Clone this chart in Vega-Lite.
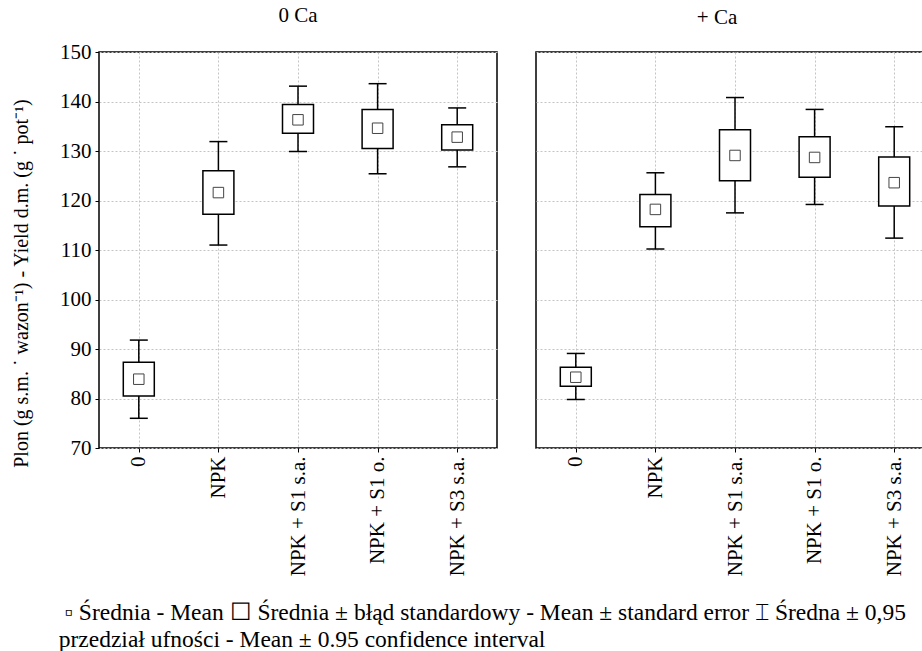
{
  "$schema": "https://vega.github.io/schema/vega-lite/v6.json",
  "background": "white",
  "padding": {"left": 10, "top": 4, "right": 0, "bottom": 0},
  "config": {
    "font": "Times New Roman",
    "view": {"stroke": "black", "strokeWidth": 1.5},
    "axis": {
      "labelFont": "Times New Roman", "titleFont": "Times New Roman",
      "labelFontSize": 21, "titleFontSize": 20, "titleFontWeight": "normal",
      "labelColor": "black", "titleColor": "black", "domain": false,
      "tickColor": "black", "tickSize": 4, "tickWidth": 1,
      "gridColor": "#c4c4c4", "gridDash": [2, 2], "gridWidth": 1
    },
    "title": {"font": "Times New Roman", "fontWeight": "normal", "fontSize": 21, "color": "black"}
  },
  "data": {
    "values": [
      {"panel": "0 Ca", "trt": "0", "mean": 83.9, "se_lo": 80.5, "se_hi": 87.3, "ci_lo": 76.0, "ci_hi": 91.8},
      {"panel": "0 Ca", "trt": "NPK", "mean": 121.6, "se_lo": 117.2, "se_hi": 126.0, "ci_lo": 111.0, "ci_hi": 131.9},
      {"panel": "0 Ca", "trt": "NPK + S1 s.a.", "mean": 136.3, "se_lo": 133.6, "se_hi": 139.4, "ci_lo": 129.9, "ci_hi": 143.1},
      {"panel": "0 Ca", "trt": "NPK + S1 o.", "mean": 134.6, "se_lo": 130.5, "se_hi": 138.4, "ci_lo": 125.4, "ci_hi": 143.6},
      {"panel": "0 Ca", "trt": "NPK + S3 s.a.", "mean": 132.8, "se_lo": 130.2, "se_hi": 135.3, "ci_lo": 126.8, "ci_hi": 138.7},
      {"panel": "+ Ca", "trt": "0", "mean": 84.3, "se_lo": 82.5, "se_hi": 86.3, "ci_lo": 79.8, "ci_hi": 89.1},
      {"panel": "+ Ca", "trt": "NPK", "mean": 118.2, "se_lo": 114.7, "se_hi": 121.2, "ci_lo": 110.2, "ci_hi": 125.6},
      {"panel": "+ Ca", "trt": "NPK + S1 s.a.", "mean": 129.1, "se_lo": 124.0, "se_hi": 134.3, "ci_lo": 117.5, "ci_hi": 140.8},
      {"panel": "+ Ca", "trt": "NPK + S1 o.", "mean": 128.7, "se_lo": 124.7, "se_hi": 132.9, "ci_lo": 119.2, "ci_hi": 138.4},
      {"panel": "+ Ca", "trt": "NPK + S3 s.a.", "mean": 123.6, "se_lo": 118.9, "se_hi": 128.8, "ci_lo": 112.4, "ci_hi": 134.9}
    ]
  },
  "title": {
    "text": ["\u200b\u00a0▫ Średnia - Mean ☐ Średnia ± błąd standardowy - Mean ± standard error ⌶ Średna ± 0,95", "przedział ufności - Mean ± 0.95 confidence interval"],
    "orient": "bottom", "anchor": "start", "fontSize": 23.5, "lineHeight": 27, "offset": 24, "dx": 48
  },
  "spacing": 37,
  "hconcat": [
    {
      "width": 398, "height": 396,
      "title": {"text": "0 Ca", "offset": 15},
      "transform": [{"filter": "datum.panel === '0 Ca'"}],
      "encoding": {
        "x": {"field": "trt", "type": "nominal", "sort": ["0", "NPK", "NPK + S1 s.a.", "NPK + S1 o.", "NPK + S3 s.a."],
              "scale": {"type": "point", "padding": 0.5},
              "axis": {"title": null, "labelAngle": -90, "labelPadding": 4, "grid": true}}
      },
      "layer": [
        {"mark": {"type": "rule", "strokeWidth": 1.5, "color": "black"},
         "encoding": {"y": {"field": "ci_lo", "type": "quantitative", "title": "Plon (g s.m. ˙ wazon⁻¹) - Yield d.m. (g ˙ pot⁻¹)",
                            "scale": {"domain": [70, 150], "nice": false, "zero": false},
                            "axis": {"values": [70, 80, 90, 100, 110, 120, 130, 140, 150], "labelPadding": 4, "titlePadding": 28, "titleY": 231}},
                      "y2": {"field": "ci_hi"}}},
        {"mark": {"type": "bar", "width": 31, "fill": "white", "stroke": "black", "strokeWidth": 1.5},
         "encoding": {"y": {"field": "se_lo", "type": "quantitative", "title": "Plon (g s.m. ˙ wazon⁻¹) - Yield d.m. (g ˙ pot⁻¹)"}, "y2": {"field": "se_hi"}}},
        {"mark": {"type": "tick", "size": 18, "thickness": 1.5, "color": "black", "opacity": 1},
         "encoding": {"y": {"field": "ci_lo", "type": "quantitative", "title": "Plon (g s.m. ˙ wazon⁻¹) - Yield d.m. (g ˙ pot⁻¹)"}}},
        {"mark": {"type": "tick", "size": 18, "thickness": 1.5, "color": "black", "opacity": 1},
         "encoding": {"y": {"field": "ci_hi", "type": "quantitative", "title": "Plon (g s.m. ˙ wazon⁻¹) - Yield d.m. (g ˙ pot⁻¹)"}}},
        {"mark": {"type": "point", "shape": "square", "size": 110, "filled": false, "stroke": "#444444", "strokeWidth": 1, "opacity": 1},
         "encoding": {"y": {"field": "mean", "type": "quantitative", "title": "Plon (g s.m. ˙ wazon⁻¹) - Yield d.m. (g ˙ pot⁻¹)"}}}
      ]
    },
    {
      "width": 398, "height": 396,
      "title": {"text": "+ Ca", "offset": 24, "dx": -18},
      "transform": [{"filter": "datum.panel === '+ Ca'"}],
      "encoding": {
        "x": {"field": "trt", "type": "nominal", "sort": ["0", "NPK", "NPK + S1 s.a.", "NPK + S1 o.", "NPK + S3 s.a."],
              "scale": {"type": "point", "padding": 0.5},
              "axis": {"title": null, "labelAngle": -90, "labelPadding": 4, "grid": true}}
      },
      "layer": [
        {"mark": {"type": "rule", "strokeWidth": 1.5, "color": "black"},
         "encoding": {"y": {"field": "ci_lo", "type": "quantitative", "title": null,
                            "scale": {"domain": [70, 150], "nice": false, "zero": false},
                            "axis": {"values": [70, 80, 90, 100, 110, 120, 130, 140, 150], "labels": false, "ticks": false}},
                      "y2": {"field": "ci_hi"}}},
        {"mark": {"type": "bar", "width": 31, "fill": "white", "stroke": "black", "strokeWidth": 1.5},
         "encoding": {"y": {"field": "se_lo", "type": "quantitative", "title": null}, "y2": {"field": "se_hi"}}},
        {"mark": {"type": "tick", "size": 18, "thickness": 1.5, "color": "black", "opacity": 1},
         "encoding": {"y": {"field": "ci_lo", "type": "quantitative", "title": null}}},
        {"mark": {"type": "tick", "size": 18, "thickness": 1.5, "color": "black", "opacity": 1},
         "encoding": {"y": {"field": "ci_hi", "type": "quantitative", "title": null}}},
        {"mark": {"type": "point", "shape": "square", "size": 110, "filled": false, "stroke": "#444444", "strokeWidth": 1, "opacity": 1},
         "encoding": {"y": {"field": "mean", "type": "quantitative", "title": null}}}
      ]
    }
  ]
}
